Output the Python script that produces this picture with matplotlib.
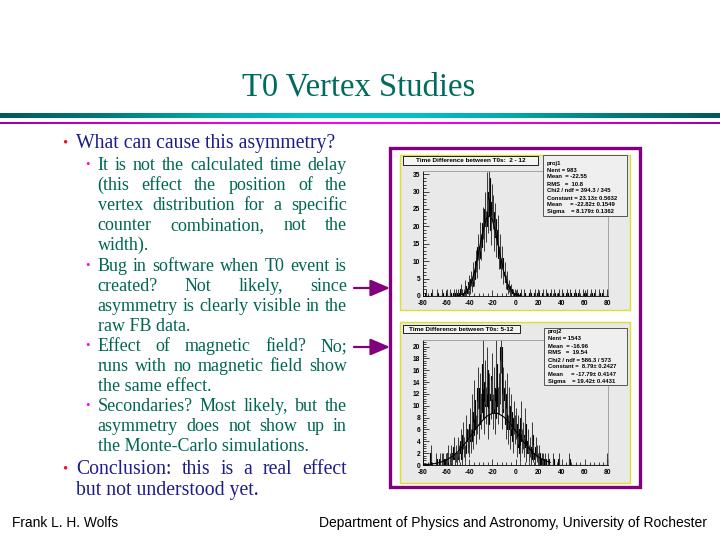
import matplotlib
matplotlib.use('Agg')
import matplotlib.pyplot as plt
from matplotlib.patches import Rectangle, FancyArrowPatch
from matplotlib.colors import LinearSegmentedColormap
from matplotlib.ticker import MultipleLocator
import numpy as np

plt.rcParams['axes.unicode_minus'] = False

# ---------------- data ----------------
title_text = "T0 Vertex Studies"
main_bullets = [
    ["What can cause this asymmetry?"],
    ["Conclusion: this is a real effect", "but not understood yet."],
]
sub_bullets = [
    ["It is not the calculated time delay", "(this effect the position of the",
     "vertex distribution for a specific", "counter combination, not the", "width)."],
    ["Bug in software when T0 event is", "created? Not likely, since",
     "asymmetry is clearly visible in the", "raw FB data."],
    ["Effect of magnetic field?  No;", "runs with no magnetic field show", "the same effect."],
    ["Secondaries?  Most likely, but the", "asymmetry does not show up in",
     "the Monte-Carlo simulations."],
]
footer_left = "Frank L. H. Wolfs"
footer_right = "Department of Physics and Astronomy, University of Rochester"

bin_edges = list(range(-80, 81))

hist1_title = "Time Difference between T0s:  2 - 12"
hist1_counts = [
    0, 0, 1, 0, 0, 0, 0, 1, 0, 0,
    0, 0, 1, 0, 0, 0, 1, 0, 0, 0,
    1, 0, 0, 1, 0, 0, 1, 0, 1, 0,
    1, 0, 2, 1, 0, 1, 3, 1, 2, 4,
    2, 5, 3, 7, 5, 10, 8, 14, 11, 17,
    14, 21, 17, 25, 20, 30, 23, 34, 19, 27,
    24, 17, 22, 15, 19, 11, 14, 8, 11, 6,
    7, 4, 5, 2, 3, 1, 2, 1, 0, 1,
    0, 1, 0, 0, 1, 0, 0, 1, 0, 0,
    0, 0, 1, 0, 0, 0, 1, 0, 0, 1,
    0, 0, 0, 1, 0, 0, 1, 0, 0, 0,
    1, 0, 0, 1, 0, 0, 0, 1, 0, 0,
    1, 0, 0, 0, 1, 0, 0, 1, 0, 0,
    0, 1, 0, 0, 1, 0, 0, 0, 1, 0,
    0, 1, 0, 0, 0, 1, 0, 0, 1, 0,
    0, 0, 1, 0, 0, 1, 0, 0, 0, 1,
]
hist1_fit_x = [-50, -45, -42.5, -40, -37.5, -35, -32.5, -30, -27.5, -25, -22.5, -20,
               -17.5, -15, -12.5, -10, -7.5, -5, -2.5, 0, 5]
hist1_fit_y = [0.09, 0.59, 1.28, 2.55, 4.62, 7.63, 11.48, 15.73, 19.64, 22.32, 23.11, 21.80,
               18.72, 14.64, 10.43, 6.77, 4.00, 2.16, 1.06, 0.47, 0.07]
hist1_stats = ["proj1", "Nent = 983", "Mean  = -22.55", "RMS   =  10.8",
               "Chi2 / ndf = 394.3 / 345", "Constant = 23.13\u00b1 0.5632",
               "Mean     = -22.82\u00b1 0.1549", "Sigma    = 8.179\u00b1 0.1362"]
hist1_yticks = [0, 5, 10, 15, 20, 25, 30, 35]

hist2_title = "Time Difference between T0s: 5-12"
hist2_counts = [
    0, 0, 0, 0, 0, 0, 2, 0, 0, 0,
    0, 1, 0, 0, 1, 0, 1, 1, 0, 1,
    1, 2, 0, 1, 2, 1, 3, 1, 2, 1,
    3, 2, 4, 1, 5, 3, 2, 6, 4, 3,
    7, 4, 9, 5, 11, 6, 8, 13, 7, 12,
    9, 17, 8, 14, 10, 16, 7, 12, 11, 15,
    9, 13, 8, 17, 10, 12, 14, 20, 9, 13,
    11, 7, 12, 6, 10, 5, 9, 4, 8, 6,
    7, 3, 6, 2, 8, 4, 5, 3, 7, 2,
    4, 2, 3, 1, 5, 2, 1, 3, 2, 1,
    2, 0, 1, 1, 0, 1, 0, 0, 1, 0,
    0, 0, 1, 0, 0, 0, 0, 1, 0, 0,
    0, 0, 0, 0, 0, 0, 1, 0, 0, 0,
    0, 0, 0, 0, 0, 0, 0, 0, 0, 0,
    0, 0, 0, 0, 0, 0, 0, 0, 0, 0,
    0, 0, 0, 0, 0, 0, 0, 0, 0, 1,
]
hist2_fit_x = [-80, -75, -70, -65, -60, -55, -50, -45, -40, -35, -30, -25, -20, -15,
               -10, -5, 0, 5, 10, 15, 20, 25, 30]
hist2_fit_y = [0.05, 0.11, 0.24, 0.46, 0.83, 1.40, 2.22, 3.29, 4.57, 5.94, 7.21, 8.21,
               8.73, 8.70, 8.11, 7.08, 5.78, 4.42, 3.16, 2.11, 1.32, 0.78, 0.43]
hist2_stats = ["proj2", "Nent = 1543", "Mean  = -16.96", "RMS   =  19.54",
               "Chi2 / ndf = 586.3 / 573", "Constant =  8.79\u00b1 0.2427",
               "Mean     = -17.79\u00b1 0.4147", "Sigma    = 19.42\u00b1 0.4431"]
hist2_yticks = [0, 2, 4, 6, 8, 10, 12, 14, 16, 18, 20]

x_ticks = [-80, -60, -40, -20, 0, 20, 40, 60, 80]

# ---------------- figure ----------------
W, H = 720, 540
fig = plt.figure(figsize=(7.2, 5.4), dpi=100)
fig.patch.set_facecolor('white')
renderer = fig.canvas.get_renderer()


def fx(p):
    return p / W


def fy(p):
    return 1 - p / H


def width_of(s, **kw):
    t = fig.text(0, 0, s, **kw)
    w = t.get_window_extent(renderer).width
    t.remove()
    return w


def fit_size(s, target, **kw):
    return 10.0 * target / width_of(s, fontsize=10, **kw)


def put_line(s, x0, x1, yb, justify, **kw):
    if not justify:
        fig.text(fx(x0), fy(yb), s, va='baseline', ha='left', **kw)
        return
    words = s.split()
    ws = [width_of(w, **kw) for w in words]
    gap = (x1 - x0 - sum(ws)) / (len(words) - 1)
    x = x0
    for w, ww in zip(words, ws):
        fig.text(fx(x), fy(yb), w, va='baseline', ha='left', **kw)
        x += ww + gap


serif = 'Liberation Serif'
sans = 'Liberation Sans'

# title
ts = fit_size(title_text, 233, family=serif)
fig.text(fx(359), fy(96), title_text, family=serif, fontsize=ts, color='#006a5e',
         ha='center', va='baseline')

# decorative bands
band_cmap = LinearSegmentedColormap.from_list(
    'band', ['#005a55', '#007c78', '#00a8a8', '#00c4c4', '#00c4c4', '#00a8a8', '#007c78', '#005a55'])
axb = fig.add_axes([0, fy(118.5), 1, 6 / H])
axb.imshow(np.linspace(0, 1, 256)[None, :], aspect='auto', cmap=band_cmap, extent=[0, 1, 0, 1])
axb.axis('off')
mag_cmap = LinearSegmentedColormap.from_list('mag', ['#a000a0', '#e000e0', '#ff00ff', '#e000e0', '#a000a0'])
axm = fig.add_axes([0, fy(124.3), 1, 2.8 / H])
axm.imshow(np.linspace(0, 1, 256)[None, :], aspect='auto', cmap=mag_cmap, extent=[0, 1, 0, 1])
axm.axis('off')

# bullet text
main_fs = fit_size("but not understood yet.", 182, family=serif)
sub_fs = fit_size("the Monte-Carlo simulations.", 211, family=serif)
main_col = '#1c1c8c'
sub_col = '#006652'

main_baselines = [[148], [474, 495]]
sub_baselines = [[170, 190, 210, 230, 250], [271, 291, 311, 331], [351, 371, 391], [411, 431, 451]]

for lines, bls in zip(main_bullets, main_baselines):
    fig.text(fx(64.5), fy(bls[0] - 5), '\u2022', family=serif, fontsize=main_fs * 0.75,
             color='#e8102a', ha='center', va='center')
    for i, (ln, b) in enumerate(zip(lines, bls)):
        put_line(ln, 76, 347, b, i < len(lines) - 1, family=serif, fontsize=main_fs, color=main_col)

for lines, bls in zip(sub_bullets, sub_baselines):
    fig.text(fx(87), fy(bls[0] - 5), '\u2022', family=serif, fontsize=sub_fs * 0.7,
             color='#ff00ff', ha='center', va='center')
    for i, (ln, b) in enumerate(zip(lines, bls)):
        put_line(ln, 97.5, 347, b, i < len(lines) - 1, family=serif, fontsize=sub_fs, color=sub_col)

# footer
fl = fit_size(footer_left, 106, family=sans)
fig.text(fx(12), fy(527), footer_left, family=sans, fontsize=fl, color='black', va='baseline')
fr = fit_size(footer_right, 389, family=sans)
fig.text(fx(707), fy(527), footer_right, family=sans, fontsize=fr, color='black',
         va='baseline', ha='right')

# arrows
for yy in [288, 347]:
    fig.add_artist(FancyArrowPatch((fx(354), fy(yy)), (fx(390), fy(yy)), transform=fig.transFigure,
                                   arrowstyle='-|>,head_length=0.75,head_width=0.32', mutation_scale=16,
                                   color='#800080', lw=1.6, shrinkA=0, shrinkB=0))

# outer frame
fig.add_artist(Rectangle((fx(390), fy(487)), (640 - 390) / W, (487 - 148) / H, transform=fig.transFigure,
                         facecolor='white', edgecolor='#800080', lw=2.4, zorder=-3))

pad_col = '#e9e9e9'


def pad(x0, y0, x1, y1):
    fig.add_artist(Rectangle((fx(x0), fy(y1)), (x1 - x0) / W, (y1 - y0) / H, transform=fig.transFigure,
                             facecolor=pad_col, edgecolor='#e0dc30', lw=1.0, zorder=-2))


pad(400, 155, 630, 310)
pad(400, 322, 630, 483)

stat_fs = fit_size("Constant = 23.13\u00b1 0.5632", 70, family=sans, weight='bold')
title_fs = fit_size(hist1_title, 110, family=sans, weight='bold')
tick_fs = stat_fs * 1.12


def histo(ax_rect, counts, fitx, fity, ymax, yticks, yminor, title, tbox, stats, sbox, sb0):
    ax = fig.add_axes(ax_rect)
    ax.set_facecolor(pad_col)
    c = np.array(counts, dtype=float)
    edges = np.array(bin_edges, dtype=float)
    centers = edges[:-1] + 0.5
    err = np.sqrt(c)
    m = c > 0
    ax.vlines(centers[m], (c - err)[m], (c + err)[m], color='#3a3a3a', lw=0.7)
    ax.stairs(c, edges, color='black', lw=0.8)
    ax.plot(fitx, fity, color='black', lw=0.8)
    ax.set_xlim(-80, 80)
    ax.set_ylim(0, ymax)
    ax.set_xticks(x_ticks)
    ax.set_yticks(yticks)
    ax.xaxis.set_minor_locator(MultipleLocator(4))
    ax.yaxis.set_minor_locator(MultipleLocator(yminor))
    ax.tick_params(direction='in', which='major', length=4, width=0.5, labelsize=tick_fs)
    ax.tick_params(axis='x', pad=3.0)
    ax.tick_params(axis='y', pad=2.0)
    ax.tick_params(direction='in', which='minor', length=2, width=0.5)
    ax.tick_params(top=False, right=False)
    for lab in ax.get_xticklabels() + ax.get_yticklabels():
        lab.set_family(sans)
        lab.set_weight('bold')
    ax.spines['left'].set_color('black')
    ax.spines['bottom'].set_color('black')
    ax.spines['top'].set_color('#9a9a9a')
    ax.spines['right'].set_color('#9a9a9a')
    for s in ax.spines.values():
        s.set_linewidth(0.6)
    # title box
    x0, y0, x1, y1 = tbox
    fig.add_artist(Rectangle((fx(x0), fy(y1)), (x1 - x0) / W, (y1 - y0) / H, transform=fig.transFigure,
                             facecolor='#f4f4f4', edgecolor='black', lw=0.6, zorder=2))
    fig.text(fx((x0 + x1) / 2), fy((y0 + y1) / 2 + 0.3), title, family=sans, weight='bold',
             fontsize=title_fs, ha='center', va='center', zorder=3)
    # stats box
    x0, y0, x1, y1 = sbox
    fig.add_artist(Rectangle((fx(x0), fy(y1)), (x1 - x0) / W, (y1 - y0) / H, transform=fig.transFigure,
                             facecolor='#efefef', edgecolor='#555555', lw=0.7, zorder=2))
    for i, s in enumerate(stats):
        fig.text(fx(x0 + 4), fy(sb0 + 7 * i), s, family=sans, weight='bold', fontsize=stat_fs,
                 ha='left', va='baseline', zorder=3)
    return ax


histo([fx(423), fy(296), 185 / W, 125 / H], hist1_counts, hist1_fit_x, hist1_fit_y, 35.9,
      hist1_yticks, 1, hist1_title, (403, 156, 538, 165), hist1_stats, (543, 155, 627, 216), 164.5)
histo([fx(423), fy(465), 185 / W, 125 / H], hist2_counts, hist2_fit_x, hist2_fit_y, 21.1,
      hist2_yticks, 0.4, hist2_title, (403, 325, 520, 333), hist2_stats, (544, 328, 627, 385), 333.5)

fig.savefig('out.png', dpi=100, facecolor='white')
